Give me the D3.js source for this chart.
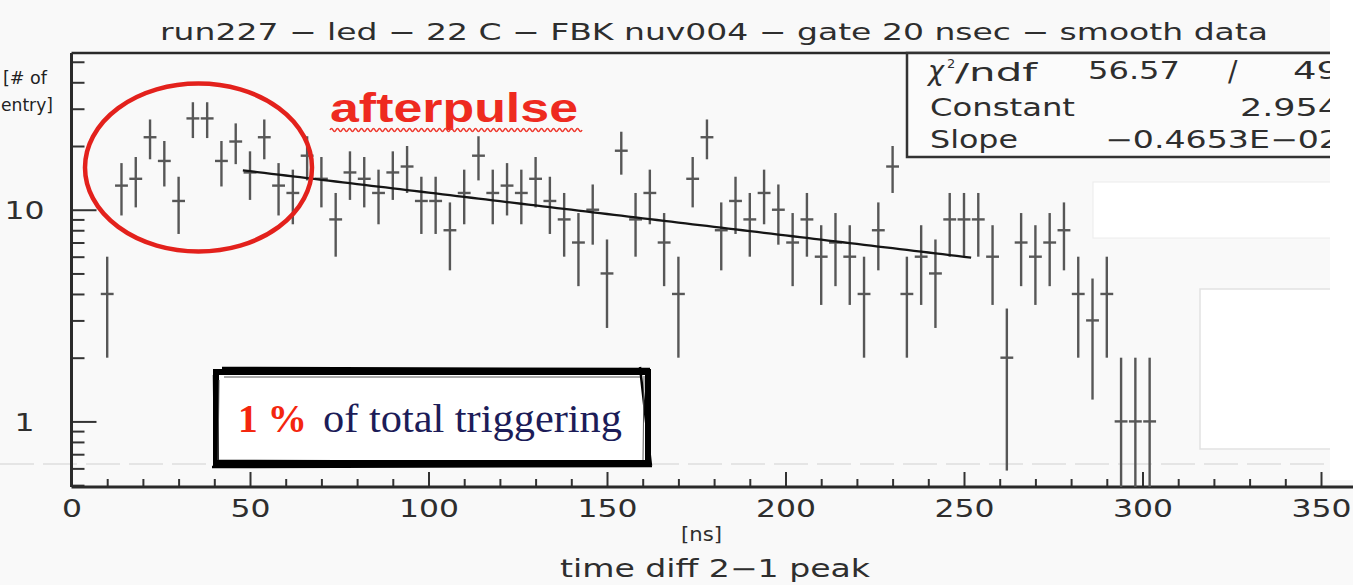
<!DOCTYPE html>
<html>
<head>
<meta charset="utf-8">
<script src="https://cdn.jsdelivr.net/npm/d3@7/dist/d3.min.js"></script>
<style>
  html, body { margin: 0; padding: 0; background: #f9f9f9; }
  svg { display: block; }
</style>
</head>
<body>
<svg id="chart" width="1353" height="585"></svg>
<script>
// Histogram of time difference between 2nd and 1st peak, 4 ns bins
const binCenters = [10,14,18,22,26,30,34,38,42,46,50,54,58,62,66,70,74,78,82,86,
  90,94,98,102,106,110,114,118,122,126,130,134,138,142,146,150,154,158,162,166,
  170,174,178,182,186,190,194,198,202,206,210,214,218,222,226,230,234,238,242,246,
  250,254,258,262,266,270,274,278,282,286,290,294,298,302];
const counts = [4,13,14,22,17,11,27,27,17,21,15,22,13,12,18,14,9,15,14,12,
  15,16,11,11,8,12,18,12,13,12,14,11,9,7,10,5,19,9,12,7,
  4,14,22,8,11,9,12,10,7,9,6,7,6,4,8,16,4,6,5,9,
  9,9,6,2,7,6,7,8,4,3,4,1,1,1];

// Exponential fit exp(Constant + Slope * t) over 48-252 ns
const fitConstant = 2.954;
const fitSlope = -0.4653e-2;
const fitRange = [48, 252];
const statNames = ["Constant", "Slope"];
const statValues = ["2.954", "\u22120.4653E\u221202"];
const chi2Text = "56.57";
const ndfText = "49";

const xMajorTicks = [0, 50, 100, 150, 200, 250, 300, 350];
const xMinorTicks = [10,20,30,40,60,70,80,90,110,120,130,140,160,170,180,190,
  210,220,230,240,260,270,280,290,310,320,330,340,360];
const xTickLabels = ["0", "50", "100", "150", "200", "250", "300", "350"];
const yMajorTicks = [1, 10];
const yTickLabels = ["1", "10"];
const yMinorTicks = [0.5,0.6,0.7,0.8,0.9,2,3,4,5,6,7,8,9,20,30,40,50];

const titleText = "run227 \u2212 led \u2212 22 C \u2212 FBK nuv004 \u2212 gate 20 nsec \u2212 smooth data";

const svg = d3.select("#chart");
const sans = "'DejaVu Sans', sans-serif";
const ink = "#2e2e2e";

const plotLeft = 71.5, plotBottom = 487, plotTop = 53;
const x = d3.scaleLinear().domain([0, 360]).range([plotLeft, plotLeft + 360 * 3.57]);
const y = d3.scaleLog().domain([0.49, 55]).range([plotBottom, plotTop]);

// faint scan line
svg.append("line").attr("x1", 0).attr("x2", 1353).attr("y1", 464).attr("y2", 464)
  .attr("stroke", "#dedede").attr("stroke-width", 1.5).attr("stroke-dasharray", "34,9");

// minor and major ticks, pointing into the frame
const gx = svg.append("g").attr("transform", `translate(0,${plotBottom})`);
gx.append("g").call(d3.axisBottom(x).tickValues(xMinorTicks).tickSize(-8).tickFormat(""))
  .call(g => g.select(".domain").remove());
gx.append("g").call(d3.axisBottom(x).tickValues(xMajorTicks).tickSize(-15)
    .tickFormat((d, i) => xTickLabels[i]))
  .call(g => g.select(".domain").remove())
  .call(g => g.selectAll("text").attr("y", 30).attr("dy", null)
    .attr("font-family", sans).attr("font-size", 25).attr("fill", ink)
    .attr("textLength", function () { return this.textContent.length * 20; })
    .attr("lengthAdjust", "spacingAndGlyphs"));
gx.selectAll("line").attr("stroke", "#333").attr("stroke-width", 2);

const gy = svg.append("g").attr("transform", `translate(${plotLeft},0)`);
gy.append("g").call(d3.axisLeft(y).tickValues(yMinorTicks).tickSize(-13).tickFormat(""))
  .call(g => g.select(".domain").remove());
gy.append("g").call(d3.axisLeft(y).tickValues(yMajorTicks).tickSize(-25)
    .tickFormat((d, i) => yTickLabels[i]))
  .call(g => g.select(".domain").remove())
  .call(g => g.selectAll("text").attr("x", -47).attr("dy", "0.36em")
    .attr("text-anchor", "middle")
    .attr("font-family", sans).attr("font-size", 25).attr("fill", ink)
    .attr("textLength", function () { return this.textContent.length * 20; })
    .attr("lengthAdjust", "spacingAndGlyphs"));
gy.selectAll("line").attr("stroke", "#333").attr("stroke-width", 2);

// frame
svg.append("line").attr("x1", plotLeft).attr("x2", 1353).attr("y1", plotBottom).attr("y2", plotBottom)
  .attr("stroke", "#2a2a2a").attr("stroke-width", 3);
svg.append("line").attr("x1", plotLeft).attr("x2", plotLeft).attr("y1", plotTop).attr("y2", plotBottom)
  .attr("stroke", "#2a2a2a").attr("stroke-width", 3);
svg.append("line").attr("x1", plotLeft).attr("x2", 1353).attr("y1", plotTop).attr("y2", plotTop)
  .attr("stroke", "#2a2a2a").attr("stroke-width", 2.5);

// data points with Poisson error bars
const pts = binCenters.map((c, i) => ({ c, n: counts[i], e: Math.sqrt(counts[i]) }));
const gPts = svg.append("g").attr("stroke", "#575757").attr("stroke-width", 2.4);
gPts.selectAll("line.v").data(pts).join("line").attr("class", "v")
  .attr("x1", d => x(d.c)).attr("x2", d => x(d.c))
  .attr("y1", d => y(d.n + d.e))
  .attr("y2", d => (d.n - d.e) > y.domain()[0] ? y(d.n - d.e) : plotBottom);
gPts.selectAll("line.h").data(pts).join("line").attr("class", "h")
  .attr("x1", d => x(d.c - 1.8)).attr("x2", d => x(d.c + 1.8))
  .attr("y1", d => y(d.n)).attr("y2", d => y(d.n));

// fit curve
const fitT = d3.range(fitRange[0], fitRange[1] + 0.1, 2);
svg.append("path")
  .attr("d", d3.line().x(t => x(t)).y(t => y(Math.exp(fitConstant + fitSlope * t)))(fitT))
  .attr("fill", "none").attr("stroke", "#151515").attr("stroke-width", 2.3);

// right-hand white patches
svg.append("rect").attr("x", 1093).attr("y", 182).attr("width", 270).attr("height", 56)
  .attr("fill", "#ffffff").attr("stroke", "#ececec").attr("stroke-width", 1);
svg.append("rect").attr("x", 1200).attr("y", 289).attr("width", 170).attr("height", 160)
  .attr("fill", "#ffffff").attr("stroke", "#e2e2e2").attr("stroke-width", 1.5);

// statistics box
svg.append("rect").attr("x", 907).attr("y", plotTop).attr("width", 460).attr("height", 104)
  .attr("fill", "#fbfbfb").attr("stroke", "#333").attr("stroke-width", 2.5);
const st = svg.append("g").attr("font-family", sans).attr("fill", ink)
  .attr("font-size", 24);
st.append("text").attr("x", 928).attr("y", 80).attr("font-style", "italic")
  .attr("font-size", 27).text("\u03c7");
st.append("text").attr("x", 947).attr("y", 68).attr("font-size", 13).text("2");
st.append("text").attr("x", 955).attr("y", 81).attr("textLength", 82)
  .attr("lengthAdjust", "spacingAndGlyphs").text("/ndf");
st.append("text").attr("x", 1088).attr("y", 79).attr("textLength", 92)
  .attr("lengthAdjust", "spacingAndGlyphs").text(chi2Text);
st.append("text").attr("x", 1228).attr("y", 81).attr("font-size", 28).text("/");
st.append("text").attr("x", 1293).attr("y", 79).attr("textLength", 47)
  .attr("lengthAdjust", "spacingAndGlyphs").text(ndfText);
const rowY = [116, 148];
const nameLen = [145, 88];
const valX = [1240, 1105];
const valLen = [100, 235];
statNames.forEach((nm, i) => {
  st.append("text").attr("x", 930).attr("y", rowY[i]).attr("textLength", nameLen[i])
    .attr("lengthAdjust", "spacingAndGlyphs").text(nm);
  st.append("text").attr("x", valX[i]).attr("y", rowY[i]).attr("textLength", valLen[i])
    .attr("lengthAdjust", "spacingAndGlyphs").text(statValues[i]);
});

// right margin strip
svg.append("rect").attr("x", 1330).attr("y", 0).attr("width", 30).attr("height", 480)
  .attr("fill", "#ffffff");

// title and axis titles
svg.append("text").attr("x", 160).attr("y", 40).attr("font-family", sans)
  .attr("font-size", 23).attr("fill", ink).attr("textLength", 1108)
  .attr("lengthAdjust", "spacingAndGlyphs").text(titleText);
svg.append("text").attr("x", 3).attr("y", 84)
  .attr("font-family", sans).attr("font-size", 18).attr("fill", "#222")
  .attr("textLength", 44).attr("lengthAdjust", "spacingAndGlyphs").text("[# of");
svg.append("text").attr("x", 1).attr("y", 111)
  .attr("font-family", sans).attr("font-size", 18).attr("fill", "#222")
  .attr("textLength", 52).attr("lengthAdjust", "spacingAndGlyphs").text("entry]");
svg.append("text").attr("x", 681).attr("y", 541).attr("font-family", sans)
  .attr("font-size", 19).attr("fill", ink).attr("textLength", 41)
  .attr("lengthAdjust", "spacingAndGlyphs").text("[ns]");
svg.append("text").attr("x", 560).attr("y", 577).attr("font-family", sans)
  .attr("font-size", 24).attr("fill", ink).attr("textLength", 310)
  .attr("lengthAdjust", "spacingAndGlyphs").text("time diff 2\u22121 peak");

// afterpulse annotation
svg.append("ellipse").attr("cx", 198.5).attr("cy", 167.5).attr("rx", 113.5).attr("ry", 84)
  .attr("fill", "none").attr("stroke", "#e3211c").attr("stroke-width", 4.5);
svg.append("text").attr("x", 330).attr("y", 122)
  .attr("font-family", "'Liberation Sans', Arial, sans-serif").attr("font-weight", "bold")
  .attr("font-size", 40).attr("fill", "#ee2a1f").attr("textLength", 248)
  .attr("lengthAdjust", "spacingAndGlyphs").text("afterpulse");
const wave = d3.path();
wave.moveTo(330, 130);
for (let px = 330; px < 578; px += 6) {
  wave.quadraticCurveTo(px + 1.5, 127, px + 3, 130);
  wave.quadraticCurveTo(px + 4.5, 133, px + 6, 130);
}
svg.append("path").attr("d", wave.toString()).attr("fill", "none")
  .attr("stroke", "#ee3a30").attr("stroke-width", 1.6);

// "1 % of total triggering" box with a brushed border
const bx = svg.append("g");
bx.append("rect").attr("x", 216).attr("y", 372).attr("width", 432).attr("height", 91)
  .attr("fill", "#ffffff").attr("stroke", "#000").attr("stroke-width", 6);
bx.append("path").attr("d", "M222,368 L650,369 M228,372 L645,371 M214,375 L215,466 M640,367 L651,466 M212,467 L652,466 M218,461 L646,462")
  .attr("fill", "none").attr("stroke", "#000").attr("stroke-width", 2.5);
bx.append("path").attr("d", "M219,380 L218,460 M224,377 L640,377 M644,376 L643,460")
  .attr("fill", "none").attr("stroke", "#555").attr("stroke-width", 1);
bx.append("text").attr("x", 238).attr("y", 432)
  .attr("font-family", "'Liberation Serif', 'Times New Roman', serif").attr("font-weight", "bold")
  .attr("font-size", 40).attr("fill", "#f4260e").attr("textLength", 69)
  .attr("lengthAdjust", "spacingAndGlyphs").text("1 %");
bx.append("text").attr("x", 323).attr("y", 432)
  .attr("font-family", "'Liberation Serif', 'Times New Roman', serif")
  .attr("font-size", 40).attr("fill", "#1c1c58").attr("textLength", 299)
  .attr("lengthAdjust", "spacingAndGlyphs").text("of total triggering");
</script>
</body>
</html>
